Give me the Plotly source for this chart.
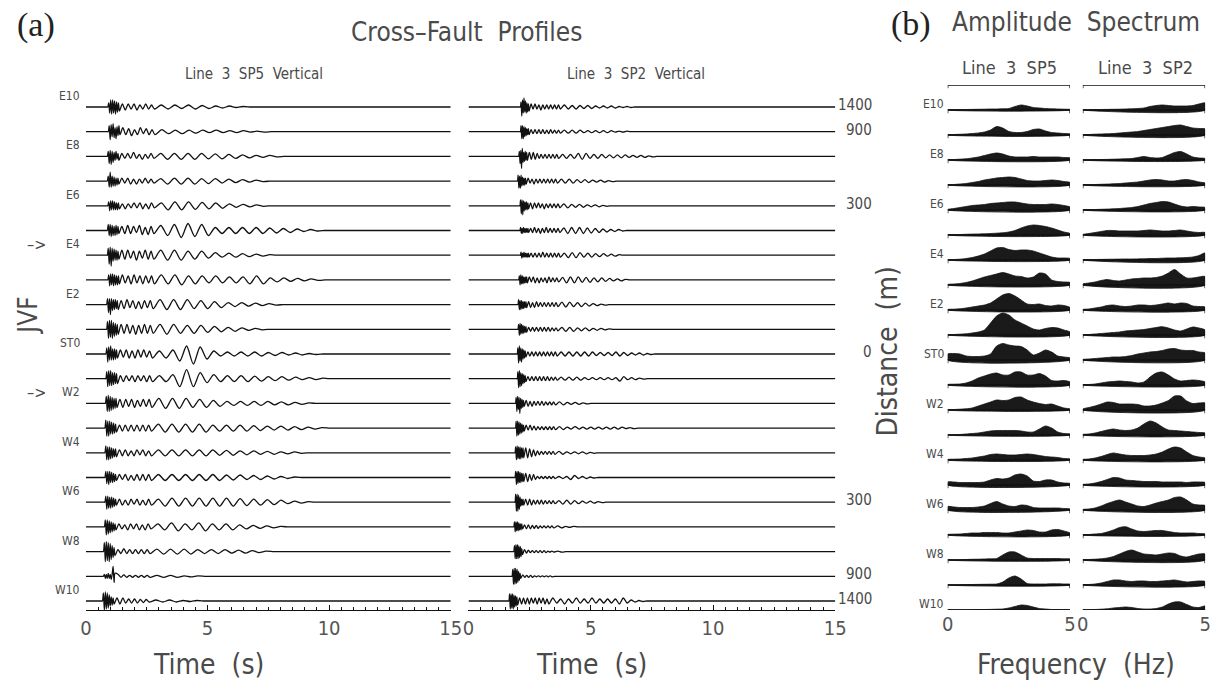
import plotly.graph_objects as go

W, H = 1223, 689

# ---------------- data ----------------
ROWS = ["E10", "E9", "E8", "E7", "E6", "E5", "E4", "E3", "E2", "E1", "ST0",
        "W1", "W2", "W3", "W4", "W5", "W6", "W7", "W8", "W9", "W10"]
LABELED_ROWS = ["E10", "E8", "E6", "E4", "E2", "ST0", "W2", "W4", "W6", "W8", "W10"]
ARROW_ROWS = ["E4", "W2"]
DIST_ROWS = ["E10", "E9", "E6", "ST0", "W6", "W9", "W10"]
DIST_TEXT = ["1400", "900", "300", "0", "300", "900", "1400"]
TIME_TICKS = [0, 5, 10, 15]
FREQ_TICKS = [0, 5]
FREQ = [0, 0.25, 0.5, 0.75, 1, 1.25, 1.5, 1.75, 2, 2.25, 2.5, 2.75, 3,
        3.25, 3.5, 3.75, 4, 4.25, 4.5, 4.75, 5]

# Line 3 SP5 vertical seismograms: onset (s) and swing amplitudes (px)
SP5_ONSET = [0.9, 0.92, 0.88, 0.88, 0.9, 0.88, 0.88, 0.9, 0.85, 0.85, 0.82,
             0.82, 0.8, 0.78, 0.78, 0.78, 0.78, 0.76, 0.72, 0.72, 0.68]
SP5_BURST = [
    [4, -6, 7, -7, 7, -6, 6, -7, 5, -5, 4, -4],
    [6, -8, 7, -5, 8, -6, 4, -7, 5, -4, 6, -3],
    [5, -7, 6, -8, 5, -6, 4, -4, 5, -3, 3, -4],
    [5, -6, 9, -6, 5, -5, 4, -5, 3, -4, 3, -3],
    [4, -5, 5, -4, 5, -4, 4, -4, 3, -4, 3, -3],
    [6, -5, 6, -6, 5, -5, 4, -5, 5, -4, 4, -3],
    [7, -9, 8, -11, 7, -6, 6, -5, 5, -5, 4, -4],
    [5, -6, 6, -5, 6, -6, 5, -5, 4, -5, 4, -4],
    [6, -8, 6, -10, 6, -6, 5, -5, 5, -4, 4, -5],
    [8, -9, 9, -8, 9, -9, 7, -7, 6, -6, 5, -5],
    [6, -8, 7, -6, 8, -6, 5, -6, 5, -5, 4, -4],
    [7, -8, 8, -7, 8, -7, 6, -6, 6, -5, 5, -5],
    [7, -8, 8, -8, 7, -7, 6, -6, 5, -5, 5, -4],
    [8, -8, 7, -8, 7, -6, 6, -6, 5, -5, 4, -4],
    [7, -7, 6, -7, 6, -6, 5, -5, 4, -4, 4, -4],
    [6, -6, 6, -7, 6, -5, 5, -5, 4, -4, 3, -3],
    [6, -7, 6, -6, 5, -6, 5, -5, 4, -4, 3, -3],
    [7, -8, 7, -7, 6, -6, 5, -5, 4, -4, 3, -3],
    [9, -10, 10, -9, 9, -10, 8, -8, 6, -6, 4, -4],
    [2, -2, 2, -2, 3, -2, 2, -3, 2, 10, -6, 3],
    [8, -9, 9, -8, 8, -7, 6, -5, 4, -4, 3, -3],
]
SP5_EARLY = [
    [3, -3, 3, -2, 3, -3, 2, -2, 3, -2, 2, -2],
    [4, -3, 3, -4, 2, -3, 4, -2, 3, -3, 2, -3],
    [3, -2, 3, -2, 4, -2, 2, -3, 2, -2, 3, -2],
    [3, -2, 3, -3, 2, -3, 2, -2, 3, -2, 2, -2],
    [2, -3, 2, -2, 3, -2, 3, -3, 2, -3, 3, -2],
    [4, -3, 5, -3, 4, -2, 5, -4, 3, -4, 4, -3],
    [5, -4, 5, -3, 4, -5, 4, -3, 5, -4, 4, -4],
    [5, -3, 4, -4, 5, -3, 4, -4, 4, -3, 4, -4],
    [4, -4, 5, -3, 4, -4, 3, -4, 4, -3, 4, -4],
    [5, -4, 5, -4, 4, -5, 4, -4, 5, -4, 4, -4],
    [4, -3, 4, -4, 3, -4, 4, -3, 4, -3, 3, -4],
    [3, -3, 3, -2, 3, -3, 3, -2, 3, -3, 3, -3],
    [4, -4, 4, -3, 4, -4, 3, -3, 4, -3, 4, -4],
    [3, -3, 3, -3, 3, -3, 3, -3, 3, -3, 3, -3],
    [3, -3, 3, -3, 2, -3, 3, -2, 3, -3, 2, -3],
    [3, -2, 3, -3, 2, -3, 3, -3, 3, -3, 3, -3],
    [3, -3, 2, -3, 3, -2, 3, -3, 2, -3, 3, -3],
    [3, -2, 2, -3, 3, -2, 3, -3, 2, -3, 3, -2],
    [2, -2, 3, -2, 2, -2, 2, -2, 2, -2, 2, -2],
    [2, -1, 1.5, -1, 1, -1, 1, -1, 1, -1, 1, -1],
    [3, -3, 3, -2, 2, -2, 2, -2, 1.5, -1.5, 1.5, -1],
]
SP5_LATE = [
    [2, -2, 2, -1.5, 2, -2, 1.5, -1.5, 1, -1, 1, -0.5, 0.5],
    [2, -2, 1.5, -2, 1.5, -1.5, 1.5, -1, 1.5, -1, 1, -1, 1, -0.5, 0.5, -0.5],
    [3, -3, 3, -3, 3, -3, 3, -2.5, 2.5, -2.5, 2, -2, 1.5, -1.5, 1, -1, 1, -0.5],
    [2.5, -3, 3, -3, 3, -3, 2.5, -2.5, 2.5, -2, 2, -1.5, 1.5, -1, 1, -0.5],
    [3, -4, 4, -4, 4, -3.5, 3.5, -3, 3, -2.5, 2, -1.5, 1.5, -1, 1, -0.5],
    [5, -5, 6, -7, 7, -6, 6, -5, 3, -3, 3, -3, 3, -3, 3, -3, 2.5, -2.5, 2, -2, 1.5, -1, 1, -0.5],
    [5, -5, 5, -5, 4, -4, 4, -3, 2.5, -2, 2, -2, 1.5, -1.5, 1, -1, 0.5],
    [5, -4, 5, -5, 4, -4, 4, -3, 4, -3, 3, -3, 3, -4, 4, -4, 2, -2, 2, -1.5, 1.5, -1, 1, -0.5],
    [5, -5, 5, -5, 5, -4, 4, -4, 3, -3, 2, -2, 2, -1.5, 1.5, -1, 1, -0.5],
    [5, -5, 5, -4, 4, -4, 4, -3, 3, -2.5, 2, -2, 1.5, -1, 1, -0.5],
    [3, -4, 4, -7, 8, -10, 7, -5, 3, -2, 2, -2, 2, -2, 2, -2, 1.5, -1.5, 1.5, -1, 1, -1, 0.5, -0.5],
    [3, -3, 4, -8, 9, -8, 6, -4, 4, -3, 3, -3, 3, -3, 2.5, -2.5, 2, -2, 2, -1.5, 1.5, -1, 1, -1, 0.5],
    [5, -5, 5, -5, 5, -4, 4, -4, 3, -3, 2, -2, 2, -2, 2, -2, 2, -1.5, 1.5, -1.5, 1, -1, 0.5],
    [4, -4, 4, -4, 4, -4, 4, -4, 3, -3, 3, -3, 3, -3, 2.5, -2.5, 2, -2, 2, -2, 1.5, -1.5, 1, -1, 0.5],
    [3, -3, 3, -3, 3, -3, 3, -3, 3, -2.5, 2.5, -2.5, 2, -2, 2, -1.5, 1.5, -1.5, 1, -1, 1, -0.5],
    [3, -3, 3, -3, 3, -3, 3, -3, 3, -3, 2.5, -2.5, 2.5, -2, 2, -2, 1.5, -1.5, 1, -1, 0.5],
    [3, -4, 4, -4, 4, -4, 4, -4, 4, -4, 4, -4, 3.5, -3.5, 3, -3, 2.5, -2.5, 2, -1.5, 1, -1, 0.5],
    [3, -3, 4, -4, 3, -3, 4, -4, 3, -3, 3, -3, 2, -2, 1.5, -1.5, 1, -1, 0.5],
    [2.5, -2.5, 2.5, -2.5, 2.5, -2.5, 2, -2, 2, -2, 2, -1.5, 1.5, -1.5, 1, -1, 0.5],
    [1, -1, 1, -1, 0.5, -0.5, 0.5],
    [1, -1, 1, -1, 0.5, -0.5, 0.5],
]

# Line 3 SP2 vertical seismograms
SP2_ONSET = [2.12, 2.12, 2.05, 2.0, 2.1, 2.1, 2.12, 2.05, 2.02, 2.02, 1.99,
             1.99, 1.92, 1.92, 1.9, 1.9, 1.9, 1.85, 1.85, 1.78, 1.65]
SP2_BURST = [
    [5, -9, 7, -6, 9, -5, 6, -6, 4, -5, 3, -4],
    [6, -7, 6, -7, 5, -5, 4, -4, 3, -3, 3, -3],
    [5, -7, 6, -12, 8, -6, 4, -5, 5, -4, 4, -4],
    [6, -7, 5, -7, 6, -5, 4, -4, 3, -4, 3, -3],
    [6, -8, 6, -9, 5, -5, 4, -4, 4, -4, 3, -3],
    [3, -3, 2, -3, 3, -2, 2, -2, 2, -2, 2, -2],
    [3, -3, 2, -2, 3, -2, 2, -2, 2, -2, 2, -2],
    [4, -5, 5, -4, 4, -4, 3, -3, 3, -3, 3, -3],
    [5, -5, 4, -5, 4, -4, 3, -4, 3, -3, 3, -3],
    [5, -6, 6, -5, 5, -4, 4, -4, 3, -3, 3, -3],
    [6, -9, 8, -7, 6, -8, 5, -5, 4, -4, 3, -3],
    [7, -9, 8, -8, 6, -7, 5, -5, 4, -4, 3, -3],
    [6, -8, 7, -6, 6, -10, 5, -5, 4, -4, 3, -3],
    [7, -8, 7, -7, 6, -6, 5, -5, 4, -4, 3, -3],
    [6, -7, 7, -6, 6, -6, 6, -6, 5, -5, 5, -5],
    [6, -7, 6, -6, 6, -5, 5, -5, 4, -4, 4, -4],
    [8, -9, 8, -9, 7, -7, 5, -4, 3, -3, 3, -3],
    [5, -5, 5, -4, 5, -4, 4, -3, 3, -3, 3, -2],
    [6, -7, 7, -7, 7, -7, 6, -6, 5, -5, 3, -3],
    [7, -8, 8, -8, 8, -7, 7, -6, 5, -4, 3, -2],
    [7, -8, 7, -7, 7, -8, 6, -6, 5, -5, 4, -4],
]
SP2_EARLY = [
    [3, -2, 3, -2, 2, -3, 2, -2, 2, -2, 2, -2, 2, -2, 2, -2],
    [2, -2, 2, -2, 2, -2, 2, -2, 1.5, -2, 2, -1.5, 1.5, -1.5, 1.5, -1.5],
    [4, -3, 4, -3, 3, -2, 2, -2, 2, -2, 2, -2, 2, -2, 2, -2],
    [3, -2, 2, -3, 2, -2, 2, -2, 2, -2, 2, -2, 2, -2, 2, -2],
    [3, -3, 3, -2, 3, -2, 2, -3, 2, -2, 2, -2, 2, -2, 2, -2],
    [2, -2, 3, -2, 2, -3, 2, -2, 3, -2, 2, -2, 2, -2, 2, -2],
    [2, -2, 2, -2, 2, -2, 3, -2, 2, -2, 2, -2, 2, -2, 2, -2],
    [3, -2, 3, -3, 2, -3, 2, -2, 2, -3, 3, -2, 2, -2, 2, -2],
    [3, -3, 2, -3, 3, -2, 2, -2, 2, -2, 2, -2, 2, -2, 2, -2],
    [2, -2, 2, -2, 2, -2, 2, -2, 2, -2, 2, -2, 1.5, -1.5, 1.5, -1.5],
    [2, -2, 2, -2, 2, -2, 2, -2, 2, -2, 2, -2, 2, -2, 2, -2],
    [2, -2, 2, -2, 2, -2, 2, -2, 2, -2, 2, -2, 1.5, -1.5, 1.5, -1.5],
    [3, -3, 2, -3, 2, -2, 2, -2, 2, -2, 1.5, -1.5, 1.5, -1.5, 1.5, -1.5],
    [3, -2, 3, -2, 2, -2, 1.5, -1.5, 1.5, -1.5, 1.5, -1.5, 1.5, -1.5, 1.5, -1.5],
    [5, -5, 4, -4, 3, -3, 2, -2, 1.5, -1.5, 1.5, -1.5, 1.5, -1.5, 1.5, -1.5],
    [4, -4, 3, -3, 3, -2, 1, -1, 1, -1, 1, -1, 1, -1, 1, -1],
    [3, -3, 3, -3, 2, -2, 2, -2, 2, -2, 1.5, -1.5, 1.5, -1.5, 1.5, -1.5],
    [2, -2, 2, -2, 1.5, -1.5, 1.5, -1.5, 1, -1, 1, -1, 1, -1, 1, -1],
    [2, -1.5, 1.5, -1, 1, -1, 1, -1, 1, -1, 1, -1, 0.5, -0.5, 0.5, -0.5],
    [1.5, -1, 1, -1, 1, -1, 0.5, -0.5, 0.5, -0.5, 0.5, -0.5, 0.5, -0.5, 0.5, -0.5],
    [3, -3, 3, -3, 3, -3, 3, -2, 3, -3, 3, -2, 3, -3, 2, -3],
]
SP2_LATE = [
    [2, -2, 1.5, -2, 1.5, -1.5, 1.5, -1.5, 1, -1, 1, -1, 1, -1, 0.5, -0.5, 0.5, -0.5],
    [1.5, -1.5, 1.5, -1.5, 1.5, -1, 1, -1, 1, -1, 1, -1, 1, -0.5, 0.5, -0.5, 0.5],
    [2, -2, 2, -2, 3, -3, 3, -2, 2, -2, 2, -1.5, 1.5, -1.5, 1.5, -1.5, 1.5, -1, 1, -1, 1, -1, 0.5, -0.5],
    [2, -2, 2, -2, 1.5, -1.5, 1.5, -1.5, 1, -1, 1, -1, 0.5, -0.5],
    [2, -2, 1.5, -1.5, 1.5, -1.5, 1, -1, 1, -1, 0.5, -0.5],
    [2.5, -3, 3, -3, 3, -3, 2.5, -2.5, 2, -2, 1.5, -1.5, 1, -1, 1, -0.5],
    [2, -2.5, 2.5, -2.5, 2.5, -2, 2, -2, 1.5, -1.5, 1.5, -1, 1, -1, 0.5],
    [2.5, -3, 3, -3, 3, -2.5, 2.5, -2.5, 2, -2, 2, -1.5, 1.5, -1, 1, -1, 0.5],
    [2.5, -2.5, 2.5, -2, 2, -2, 1.5, -1.5, 1, -1, 0.5, -0.5],
    [2, -2, 2, -2, 1.5, -1.5, 1.5, -1.5, 1, -1, 1, -0.5, 0.5],
    [2, -2, 2, -2, 2, -2, 2, -2, 2, -1.5, 1.5, -1.5, 1.5, -1.5, 2, -2, 1.5, -1.5, 1, -1, 1, -1, 0.5, -0.5],
    [1.5, -1.5, 1.5, -1.5, 1.5, -1.5, 1, -1, 1, -1, 1, -1, 1, -1, 1, -2.5, 2, -1, 1, -1, 0.5, -0.5],
    [1.5, -1.5, 1, -1, 1, -1, 0.5, -0.5],
    [1.5, -1.5, 1, -1, 1.5, -1, 1, -1, 1, -1, 1, -1, 1, -1, 1, -1, 1, -0.5, 0.5, -0.5],
    [1.5, -1.5, 1, -1, 1, -1, 1, -1, 0.5, -0.5],
    [1, -1, 1, -2, 2, -1, 1, -1, 0.5, -0.5],
    [1.5, -2, 2, -2, 1.5, -1.5, 1, -1, 1, -1, 0.5, -0.5],
    [1, -1, 0.5, -0.5, 0.5],
    [0.5, -0.5],
    [],
    [3, -2, 2, -3, 2, -2, 3, -2, 2, -2, 3, -2, 2, -2, 2, -2, 2, -3, 3, -2, 1, -1, 0.5, -0.5],
]

# Amplitude spectra (px height above baseline) at FREQ
SPEC_SP5 = [
    [0.3, 0.3, 0.4, 0.5, 0.6, 0.7, 0.8, 1, 1, 1.2, 1.5, 3.5, 5, 4, 2.5, 2, 1.5, 1.2, 1, 0.8, 0.5],
    [0.3, 0.5, 0.7, 1, 1.5, 2, 3, 5, 8.5, 7, 3.5, 2.5, 2.5, 3.5, 5.5, 6, 4, 2.5, 2, 1.5, 1],
    [0.3, 0.5, 0.8, 1.2, 2, 3, 4.5, 6, 7, 6, 4, 3, 3, 3, 3.5, 3, 3, 3, 3, 2.5, 2],
    [0.3, 0.5, 1, 1.5, 2.5, 3.5, 5, 6, 7, 7.5, 8, 7.5, 6, 4.5, 4, 4, 4.5, 5, 4.5, 3.5, 2.5],
    [0.5, 1.5, 2.5, 3.5, 4.5, 5, 5.5, 6.5, 7, 7.5, 8, 8, 7, 6, 5.5, 5.5, 5.5, 6, 5.5, 4.5, 3],
    [0.3, 0.4, 0.5, 0.7, 0.9, 1, 1.2, 1.5, 1.8, 2.2, 3, 4.5, 7, 9, 10, 9.5, 8.5, 7, 5, 3, 1.5],
    [0.3, 0.5, 0.8, 1.5, 2.5, 4, 6, 9, 12, 12.5, 10.5, 9.5, 10, 10, 9, 7, 5, 3, 2, 2, 1.5],
    [0.5, 1, 1.5, 2.5, 4, 6, 8, 9.5, 11, 12.5, 11, 9, 8.5, 7, 8, 12, 11, 5, 3.5, 3, 2.5],
    [0.5, 0.8, 1.2, 2, 3, 4, 5, 7, 11, 15, 16.5, 14, 10, 6, 5.5, 6, 4.5, 4, 5, 4.5, 2.5],
    [0.3, 0.5, 0.8, 1.2, 2, 3, 5, 12, 19, 22, 20, 15, 12, 9, 6, 5, 6.5, 7.5, 7, 5, 3],
    [6, 6.5, 6, 4, 3.5, 3.5, 4, 6, 14, 16.5, 15, 14, 13.5, 10, 5, 7, 10, 8, 4, 3, 2],
    [0.5, 0.8, 1, 2, 4, 7, 9, 11, 12, 10, 10, 13, 13, 10, 10, 11.5, 9, 4.5, 4, 4.5, 3],
    [0.3, 0.5, 0.8, 1.2, 2, 4, 6, 8, 10, 9.5, 10, 12.5, 13, 10, 8, 6.5, 5.5, 6, 4, 2, 1],
    [0.2, 0.3, 0.5, 1, 1.5, 2, 3, 4, 4.5, 4.5, 4.5, 4.5, 4, 3, 3, 6, 9, 7, 3, 1.5, 1],
    [0.5, 0.8, 1, 1.5, 2, 3, 4, 5.5, 6, 5.5, 5, 5, 5.5, 6, 5.5, 4.5, 3.5, 3, 2.5, 1.5, 1],
    [3, 3, 2.5, 2.5, 2.5, 2.5, 3, 5, 6.5, 6, 7, 10, 11, 9, 4, 3.5, 5, 5, 3, 2, 1.5],
    [3.5, 3, 2.5, 2.5, 2.5, 3, 4, 6.5, 8.5, 6, 4, 3.5, 5, 4.5, 2.5, 2, 2, 2, 2, 1.5, 1],
    [0.5, 0.8, 1, 1.5, 2, 2, 2.5, 2.5, 2.5, 2, 2, 3, 4, 5, 4.5, 3, 3, 5, 5.5, 4, 2],
    [0.2, 0.2, 0.3, 0.5, 0.7, 0.8, 1, 1.2, 1.5, 5, 8, 8, 5, 2, 1.5, 1.5, 1.5, 1.5, 1.5, 1.2, 1],
    [0.2, 0.2, 0.3, 0.4, 0.5, 0.6, 0.7, 0.8, 1, 3, 7, 9, 6, 1.5, 1, 1, 1, 1.2, 1.2, 1, 0.8],
    [0.2, 0.2, 0.2, 0.3, 0.3, 0.4, 0.5, 0.6, 0.8, 1, 2, 3.5, 5, 4.5, 3, 1.5, 1, 0.5, 0.5, 0.3, 0.2],
]
SPEC_SP2 = [
    [0.2, 0.3, 0.4, 0.5, 0.6, 0.7, 0.8, 1, 1.2, 1.5, 2, 3.5, 4.5, 5, 4.5, 4, 4, 4, 4.5, 6, 7],
    [0.3, 0.5, 0.8, 1, 1.2, 1.5, 2, 2.5, 3, 3.5, 4.5, 5.5, 6.5, 7.5, 8.5, 9.5, 10, 8.5, 7, 6.5, 6],
    [0.2, 0.3, 0.4, 0.5, 0.6, 0.8, 1, 1.2, 1.5, 2.5, 3.5, 2.5, 2, 2.5, 5, 7.5, 8.5, 6, 3, 2, 1.5],
    [0.3, 0.4, 0.5, 0.7, 0.9, 1.2, 1.5, 2, 2.5, 3, 4, 5, 5.5, 5, 4, 4, 5, 5.5, 4.5, 3, 2],
    [0.3, 0.4, 0.5, 0.7, 0.9, 1.2, 1.5, 2, 2.5, 3.5, 5, 6.5, 7.5, 8.5, 8, 6, 4, 3, 3.5, 3, 2.5],
    [0.5, 1.5, 2.5, 3.5, 4.5, 4.5, 4, 4, 4, 4, 4.5, 5, 4.5, 4, 4, 4.5, 5, 4, 3, 2.5, 2.5],
    [0.3, 0.4, 0.5, 0.6, 0.7, 0.8, 0.9, 1, 1, 1.1, 1.2, 1.5, 1.5, 1.8, 2, 2, 2.2, 2.5, 3, 4.5, 7],
    [1, 2, 3, 4.5, 5.5, 4.5, 4, 5, 6, 6.5, 7, 7, 7.5, 9, 12, 15.5, 11, 7, 7, 8, 8.5],
    [0.5, 1, 2, 3, 4.5, 5, 4, 3.5, 4, 5, 5, 4.5, 5, 6, 7, 6, 7, 6.5, 4, 3.5, 3],
    [0.3, 0.5, 1, 1.5, 2, 2.5, 3, 4, 4.5, 5, 5.5, 6.5, 7.5, 8.3, 7, 5, 4, 6, 8, 7, 5],
    [0.5, 1, 1.5, 2, 2.5, 3, 3, 3.5, 4.5, 6, 7, 8, 8.5, 9.5, 11, 11.5, 10, 9.5, 9.5, 8, 7],
    [0.3, 0.5, 1, 2, 3, 3.5, 4, 3.5, 3, 2, 3, 8, 12, 13, 10, 6, 4, 4.5, 5, 4.5, 3],
    [1, 2.5, 4, 6, 8, 7.5, 6, 6, 6, 5.5, 4, 4, 5, 7, 9.5, 14, 14, 9, 6.5, 7, 7],
    [0.5, 1, 2, 3.5, 5, 6, 5, 4.5, 5, 7, 11, 14, 12, 8, 5, 4.5, 4, 3.5, 3, 2.5, 2],
    [0.5, 1, 2, 3.5, 5.5, 7, 6, 5, 4.5, 4.5, 4.5, 5, 6, 8, 11, 13, 12, 8, 4.5, 3, 2],
    [0.5, 1, 2, 3.5, 5.5, 7.5, 7, 5, 4.5, 4, 3.5, 3.5, 3.5, 3, 3, 3, 3, 2.5, 3, 3, 2.5],
    [0.5, 1, 2, 4, 6.5, 8.5, 10, 8, 6, 4, 3.5, 5, 7, 8.5, 10, 12.5, 13, 10, 6, 5, 4.5],
    [0.3, 0.5, 1, 1.5, 3, 5, 7.5, 8.3, 6, 4, 3.5, 4, 4.5, 4.5, 3.5, 2.5, 2, 2, 2, 1.5, 1],
    [0.3, 0.5, 0.8, 1.2, 2, 3.5, 6, 8.5, 10, 8, 6, 5.5, 5, 6, 7, 6.5, 4, 3, 4.5, 6, 6],
    [0.3, 0.5, 1, 2, 3.5, 5, 5, 4, 3.5, 4, 4, 3.5, 3.5, 4, 4.5, 5, 4, 3, 3.5, 4, 3.5],
    [0.2, 0.3, 0.5, 0.8, 1.2, 2, 2.5, 3, 2.5, 1.5, 1, 1, 1.5, 3, 6, 8, 8, 5.5, 3, 2.5, 4],
]

# ---------------- styling constants ----------------
SANS = "DejaVu Sans Condensed, Liberation Sans Narrow, DejaVu Sans, sans-serif"
SERIF = "Liberation Serif, DejaVu Serif, serif"
TXT = "#4a4a4a"
INK = "#111111"
SEIS_PX = 24.7      # px per trace spacing in panel (a)
SPEC_PX = 25.0      # px per trace spacing in panel (b)
SP5_STEPS = (0.04, 0.12, 0.28)
SP2_STEPS = (0.03, 0.08, 0.16)
T_END = 15.0
PAD = 0.03          # flat guard points so the smoothed line stays straight


def px_x(x):
    return x / W


def px_y(y):
    return 1 - y / H


def seismogram(row, onset, segments, steps):
    base = -row
    xs = [0.0, onset - 2 * PAD, onset - PAD, onset]
    ys = [base] * 4
    t = onset
    for vals, dt in zip(segments, steps):
        for v in vals:
            t += dt
            xs.append(t)
            ys.append(base + v / SEIS_PX)
    t += steps[-1]
    xs += [t, t + PAD, t + 2 * PAD, T_END]
    ys += [base] * 4
    return xs, ys


fig = go.Figure()

# panel (a): seismograms
for xa, onsets, b, e, l, steps in [
        ("x", SP5_ONSET, SP5_BURST, SP5_EARLY, SP5_LATE, SP5_STEPS),
        ("x2", SP2_ONSET, SP2_BURST, SP2_EARLY, SP2_LATE, SP2_STEPS)]:
    for k in range(len(ROWS)):
        xs, ys = seismogram(k, onsets[k], (b[k], e[k], l[k]), steps)
        fig.add_trace(go.Scatter(x=xs, y=ys, xaxis=xa, yaxis="y", mode="lines",
                                 line=dict(color=INK, width=1.3, shape="spline",
                                           smoothing=0.8),
                                 hoverinfo="skip"))

# panel (b): spectra
for xa, spec in [("x3", SPEC_SP5), ("x4", SPEC_SP2)]:
    for k, amps in enumerate(spec):
        base = -k
        xs = FREQ + [FREQ[-1], FREQ[0], FREQ[0]]
        ys = [base + a / SPEC_PX for a in amps] + [base, base, base + amps[0] / SPEC_PX]
        fig.add_trace(go.Scatter(x=xs, y=ys, xaxis=xa, yaxis="y3", mode="lines",
                                 fill="toself", fillcolor="#1a1a1a",
                                 line=dict(color=INK, width=0.8, shape="spline", smoothing=0.7),
                                 hoverinfo="skip"))
    # baselines with small end ticks (plus top frame line)
    X, Y = [], []
    for k in range(-1, len(spec)):
        b = -k
        X += [FREQ[0], FREQ[0], FREQ[-1], FREQ[-1], None]
        Y += [b - 0.13, b, b, b - 0.13, None]
    fig.add_trace(go.Scatter(x=X, y=Y, xaxis=xa, yaxis="y3", mode="lines",
                             line=dict(color=INK, width=1.3), hoverinfo="skip"))

# ---------------- axes ----------------
y_dom_a = [px_y(610), px_y(82.3)]
y_dom_b = [px_y(610), px_y(85)]

time_axis = dict(range=[0, T_END], tickvals=TIME_TICKS, ticks="inside", ticklen=5,
                 tickcolor=INK, tickwidth=1, showline=True, linecolor=INK, linewidth=1.3,
                 minor=dict(tick0=0, dtick=0.5, ticks="inside", ticklen=3, tickcolor=INK),
                 showgrid=False, zeroline=False, fixedrange=True,
                 tickfont=dict(family=SANS, size=20, color="#555"), anchor="y")
fig.update_layout(
    xaxis=dict(domain=[px_x(81), px_x(451)], **time_axis),
    xaxis2=dict(domain=[px_x(469), px_x(841)], **time_axis),
    yaxis=dict(domain=y_dom_a, range=[-(610 - 107) / SEIS_PX, 1.0], visible=False,
               fixedrange=True),
    xaxis3=dict(domain=[px_x(955), px_x(1079)], range=[0, 5], tickvals=FREQ_TICKS,
                ticks="", showline=False, showgrid=False, zeroline=False, anchor="y3",
                tickfont=dict(family=SANS, size=20, color="#555")),
    xaxis4=dict(domain=[px_x(1092), px_x(1216)], range=[0, 5], tickvals=FREQ_TICKS,
                ticks="", showline=False, showgrid=False, zeroline=False, anchor="y3",
                tickfont=dict(family=SANS, size=20, color="#555")),
    yaxis3=dict(domain=y_dom_b, range=[-20, 1], visible=False, fixedrange=True),
)

# ---------------- text ----------------
ann = []


def text(x, y, s, size, family=SANS, color=TXT, angle=0, xanchor="center", xref="paper",
         yref="paper"):
    ann.append(dict(x=x, y=y, xref=xref, yref=yref, text=s, showarrow=False,
                    font=dict(family=family, size=size, color=color), textangle=angle,
                    xanchor=xanchor, yanchor="middle"))


text(px_x(30), px_y(25), "(a)", 34, family=SERIF, color="#222")
text(px_x(467), px_y(32), "Cross\u2013Fault  Profiles", 26)
text(px_x(251), px_y(74), "Line  3  SP5  Vertical", 15)
text(px_x(639), px_y(74), "Line  3  SP2  Vertical", 15)
text(px_x(918), px_y(24), "(b)", 34, family=SERIF, color="#222")
text(px_x(1085), px_y(22), "Amplitude  Spectrum", 26)
text(px_x(1018), px_y(68), "Line  3  SP5", 18)
text(px_x(1156), px_y(68), "Line  3  SP2", 18)
text(px_x(205), px_y(664), "Time  (s)", 28)
text(px_x(594), px_y(664), "Time  (s)", 28)
text(px_x(1085), px_y(664), "Frequency  (Hz)", 28)
text(px_x(893), px_y(352), "Distance  (m)", 28, angle=-90)
text(px_x(22), px_y(316), "JVF", 26, angle=-90)

for name in LABELED_ROWS:
    k = ROWS.index(name)
    text(px_x(77), -k + 11 / SEIS_PX, name, 12, xanchor="right", yref="y")
    text(px_x(953), -k + 6 / SPEC_PX, name, 12, xanchor="right", yref="y3")
for name in ARROW_ROWS:
    k = ROWS.index(name)
    text(px_x(31), -k + 11 / SEIS_PX, "\u2013>", 16, yref="y")
for name, s in zip(DIST_ROWS, DIST_TEXT):
    k = ROWS.index(name)
    text(px_x(880), -k + 2 / SEIS_PX, s, 15, xanchor="right", yref="y")

fig.update_layout(
    width=W, height=H, margin=dict(l=0, r=0, t=0, b=0),
    paper_bgcolor="white", plot_bgcolor="white", showlegend=False,
    annotations=ann,
)

fig.write_html("out.html")
